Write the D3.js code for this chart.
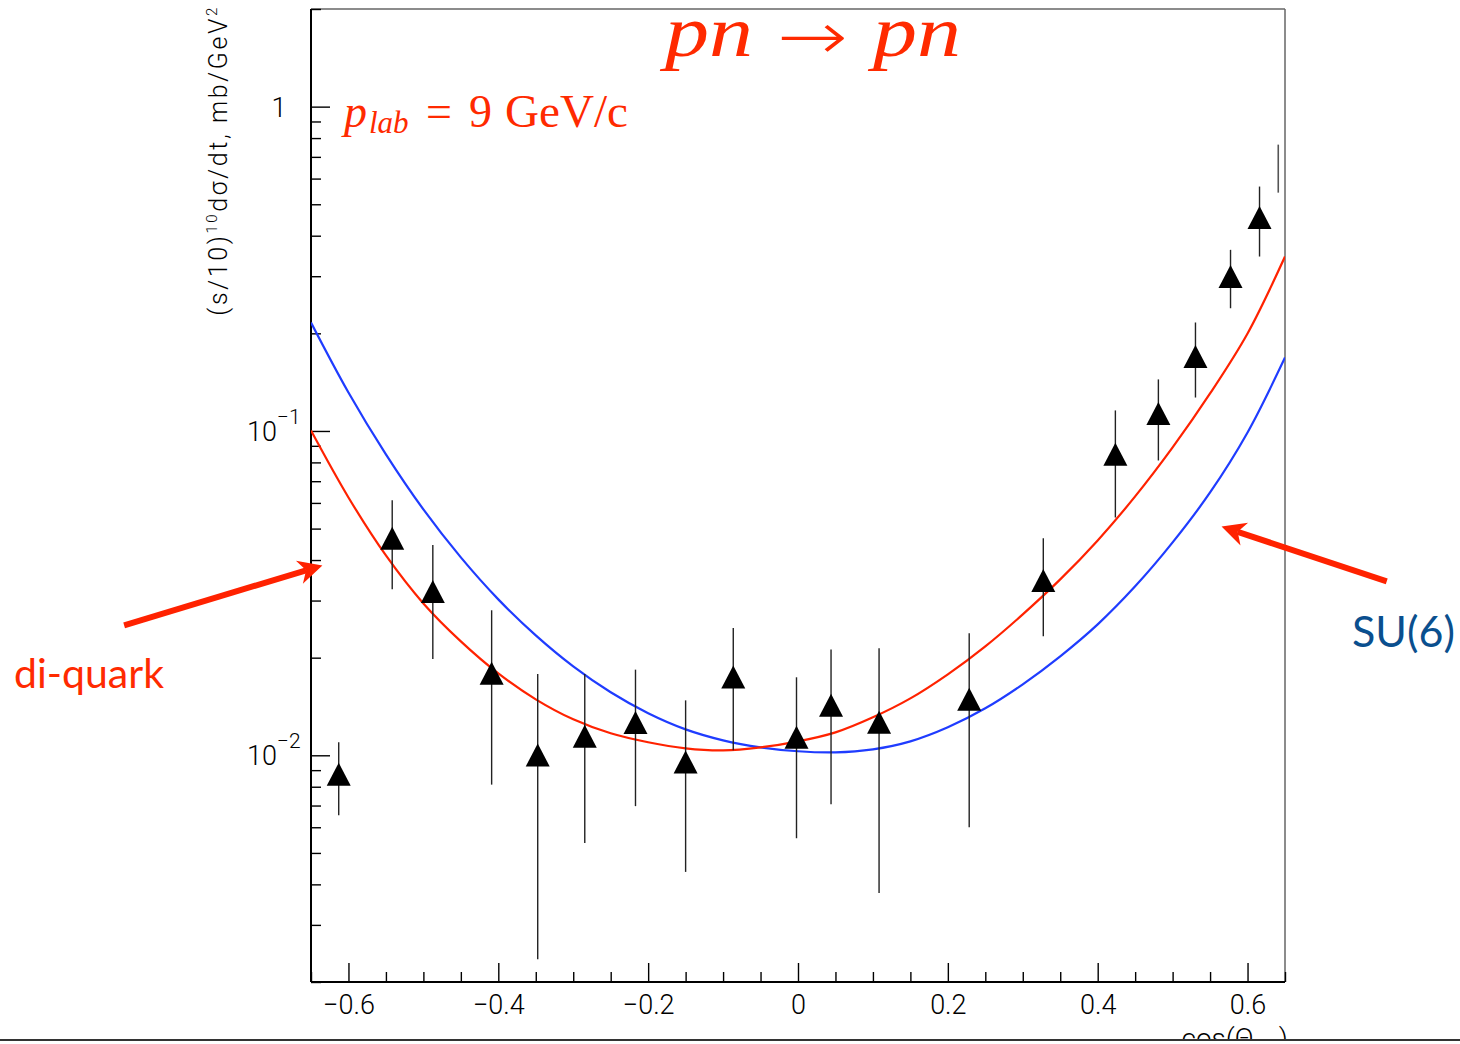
<!DOCTYPE html>
<html><head><meta charset="utf-8">
<script src="https://cdn.jsdelivr.net/npm/d3@7"></script>
<style>body{margin:0;background:#fff;overflow:hidden}</style>
</head><body>
<svg id="c" width="1460" height="1044"></svg>
<script>
// ---------- data ----------
const pointX   = [-0.613, -0.5416, -0.4874, -0.4089, -0.3474, -0.2846, -0.2169, -0.150, -0.0864, -0.002, 0.0441, 0.1082, 0.2285, 0.3274, 0.4236, 0.4810, 0.5305, 0.5773, 0.6160];
const pointY   = [0.00874, 0.0467, 0.0320, 0.0179, 0.01002, 0.01145, 0.01262, 0.00954, 0.01743, 0.01136, 0.01426, 0.01264, 0.01488, 0.0346, 0.0847, 0.1132, 0.1697, 0.2993, 0.455];
const pointHi  = [0.01097, 0.0611, 0.0445, 0.0280, 0.0178, 0.0178, 0.01837, 0.01477, 0.0247, 0.0174, 0.0212, 0.0214, 0.02377, 0.0467, 0.1157, 0.1442, 0.2160, 0.3618, 0.567];
const pointLo  = [0.00653, 0.0325, 0.0198, 0.00812, 0.00235, 0.00537, 0.00697, 0.00437, 0.01036, 0.00555, 0.00706, 0.00376, 0.0060, 0.0233, 0.0541, 0.0811, 0.1268, 0.239, 0.345];
// error bar drawn without marker (right edge)
const barOnlyX  = [0.641];
const barOnlyLo = [0.543];
const barOnlyHi = [0.7636];

const curveX = [-0.65,-0.60,-0.55,-0.50,-0.45,-0.40,-0.35,-0.30,-0.25,-0.20,-0.15,-0.10,-0.05,0.00,0.05,0.10,0.15,0.20,0.25,0.30,0.35,0.40,0.45,0.50,0.55,0.60,0.65];
const diquarkY = [0.1003,0.06237,0.04133,0.02940,0.02246,0.01789,0.01488,0.01291,0.01169,0.01097,0.01051,0.01036,0.01058,0.01104,0.01177,0.01310,0.01498,0.01777,0.02167,0.02720,0.03486,0.04598,0.06283,0.08897,0.1305,0.1998,0.3449];
const su6Y     = [0.2160,0.13145,0.08468,0.05729,0.04075,0.03025,0.02343,0.01880,0.01564,0.01348,0.01202,0.01112,0.01058,0.01029,0.01021,0.01043,0.01104,0.01220,0.01396,0.01655,0.02019,0.02533,0.03318,0.04533,0.06463,0.09894,0.16841];

const xMajor = [-0.6,-0.4,-0.2,0,0.2,0.4,0.6];
const xMinor = [-0.65,-0.55,-0.5,-0.45,-0.35,-0.3,-0.25,-0.15,-0.1,-0.05,0.05,0.1,0.15,0.25,0.3,0.35,0.45,0.5,0.55,0.65];
const yMajor = [0.01,0.1,1];
const yMinor = [0.002,0.003,0.004,0.005,0.006,0.007,0.008,0.009,0.02,0.03,0.04,0.05,0.06,0.07,0.08,0.09,0.2,0.3,0.4,0.5,0.6,0.7,0.8,0.9,2];
const yMajorLabels = [{base:"10",exp:"\u22122"},{base:"10",exp:"\u22121"},{base:"1",exp:""}];

// annotation arrows (data coords: tail -> tip)
const arrowDiquark = {x0:-0.8994, y0:0.02516, x1:-0.6348, y1:0.03850};
const arrowSU6     = {x0: 0.7858, y0:0.03437, x1: 0.5653, y1:0.05077};

// ---------- layout ----------
const svg = d3.select("#c");
const L=311, R=1285, T=9, B=982;
const x = d3.scaleLinear().domain([-0.65,0.65]).range([L,R]);
const y = d3.scaleLog().domain([0.002,2]).range([B,T]);
const RED="#ff2200", BLUE="#1f3cff", TXTRED="#ff2a00", SUBLUE="#0a4f8e";
const tickFont = "Roboto, 'Liberation Sans', sans-serif";

svg.append("defs").append("clipPath").attr("id","plot")
  .append("rect").attr("x",L).attr("y",T).attr("width",R-L).attr("height",B-T);
svg.select("defs").append("clipPath").attr("id","bottomclip")
  .append("rect").attr("x",0).attr("y",0).attr("width",1460).attr("height",1039);

// frame
svg.append("line").attr("x1",L).attr("x2",R).attr("y1",T).attr("y2",T).attr("stroke","#666").attr("stroke-width",1.5);
svg.append("line").attr("x1",R).attr("x2",R).attr("y1",T).attr("y2",B).attr("stroke","#666").attr("stroke-width",1.5);

// x axis
const fmtX = d => Math.abs(d) < 1e-9 ? "0" : d3.format(".1f")(d);
const gx = svg.append("g").attr("transform",`translate(0,${B})`)
  .call(d3.axisBottom(x).tickValues(xMajor).tickSize(-19).tickPadding(13).tickFormat(fmtX));
gx.select(".domain").remove();
gx.selectAll(".tick line").attr("stroke","#000").attr("stroke-width",1.4);
gx.selectAll(".tick text").attr("font-family",tickFont).attr("font-weight",300).attr("font-size",27).attr("fill","#000");
const gxm = svg.append("g").attr("transform",`translate(0,${B})`)
  .call(d3.axisBottom(x).tickValues(xMinor).tickSize(-10).tickFormat(""));
gxm.select(".domain").remove();
gxm.selectAll(".tick line").attr("stroke","#000").attr("stroke-width",1.4);

// y axis
const gy = svg.append("g").attr("transform",`translate(${L},0)`)
  .call(d3.axisLeft(y).tickValues(yMajor).tickSize(-19).tickFormat(""));
gy.select(".domain").remove();
gy.selectAll(".tick line").attr("stroke","#000").attr("stroke-width",1.4);
const gym = svg.append("g").attr("transform",`translate(${L},0)`)
  .call(d3.axisLeft(y).tickValues(yMinor).tickSize(-10).tickFormat(""));
gym.select(".domain").remove();
gym.selectAll(".tick line").attr("stroke","#000").attr("stroke-width",1.4);

// y tick labels
yMajor.forEach((v,i) => {
  const lab = yMajorLabels[i];
  const t = svg.append("text").attr("font-family",tickFont).attr("font-weight",300)
    .attr("font-size",27).attr("fill","#000").attr("y",y(v)+10);
  if (lab.exp === "") {
    t.attr("x",279).attr("text-anchor","middle").text(lab.base);
  } else {
    t.attr("x",247);
    t.append("tspan").text(lab.base);
    t.append("tspan").attr("dy",-17).attr("font-size",21).text(lab.exp);
  }
});

// axis lines
svg.append("line").attr("x1",L).attr("x2",L).attr("y1",T).attr("y2",B).attr("stroke","#000").attr("stroke-width",2);
svg.append("line").attr("x1",L).attr("x2",R).attr("y1",B).attr("y2",B).attr("stroke","#000").attr("stroke-width",2);

// y axis title
const yt = svg.append("text").attr("transform","translate(227,5) rotate(-90)")
  .attr("text-anchor","end").attr("font-family",tickFont).attr("font-weight",300)
  .attr("font-size",25).attr("fill","#000").attr("letter-spacing",2.6);
yt.append("tspan").text("(s/10)");
yt.append("tspan").attr("dy",-10).attr("font-size",15).text("10");
yt.append("tspan").attr("dy",10).text("d\u03c3/dt, mb/GeV");
yt.append("tspan").attr("dy",-10).attr("font-size",15).text("2");

// x axis title (partly hidden below the bottom rule, as in the original)
svg.append("text").attr("clip-path","url(#bottomclip)")
  .attr("x",1288).attr("y",1048).attr("text-anchor","end")
  .attr("font-family",tickFont).attr("font-weight",300).attr("font-size",28).attr("fill","#000")
  .html("cos(\u0398<tspan font-size='18' dy='6'>cm</tspan><tspan dy='-6'>)</tspan>");
svg.append("line").attr("x1",0).attr("x2",1460).attr("y1",1040).attr("y2",1040).attr("stroke","#333").attr("stroke-width",2);

// curves
const line = d3.line().x(d=>x(d[0])).y(d=>y(d[1])).curve(d3.curveCatmullRom.alpha(0.5));
const plot = svg.append("g").attr("clip-path","url(#plot)");
plot.append("path").datum(curveX.map((v,i)=>[v,su6Y[i]])).attr("d",line)
  .attr("fill","none").attr("stroke",BLUE).attr("stroke-width",2.2);
plot.append("path").datum(curveX.map((v,i)=>[v,diquarkY[i]])).attr("d",line)
  .attr("fill","none").attr("stroke",RED).attr("stroke-width",2.2);

// error bars
const pts = pointX.map((v,i)=>({x:v,y:pointY[i],hi:pointHi[i],lo:pointLo[i]}));
plot.selectAll("line.err").data(pts).join("line").attr("class","err")
  .attr("x1",d=>x(d.x)).attr("x2",d=>x(d.x)).attr("y1",d=>y(d.hi)).attr("y2",d=>y(d.lo))
  .attr("stroke","#222").attr("stroke-width",1.4);
plot.selectAll("line.err2").data(barOnlyX.map((v,i)=>({x:v,hi:barOnlyHi[i],lo:barOnlyLo[i]}))).join("line").attr("class","err2")
  .attr("x1",d=>x(d.x)).attr("x2",d=>x(d.x)).attr("y1",d=>y(d.hi)).attr("y2",d=>y(d.lo))
  .attr("stroke","#555").attr("stroke-width",1.6);
// triangle markers
plot.selectAll("path.mk").data(pts).join("path").attr("class","mk")
  .attr("transform",d=>`translate(${x(d.x)},${y(d.y)})`)
  .attr("d","M0,-11.5L12,11.5L-12,11.5Z").attr("fill","#000");

// title
const title = svg.append("g").attr("fill",TXTRED).attr("font-family","'Liberation Serif', 'DejaVu Serif', serif");
title.append("text").attr("x",665).attr("y",56).attr("font-size",72).attr("font-style","italic")
  .attr("textLength",88).attr("lengthAdjust","spacingAndGlyphs").text("pn");
title.append("text").attr("x",777).attr("y",59).attr("font-size",66)
  .attr("font-family","'DejaVu Sans', sans-serif").attr("font-weight",200)
  .attr("textLength",71).attr("lengthAdjust","spacingAndGlyphs").text("\u2192");
title.append("text").attr("x",873).attr("y",56).attr("font-size",72).attr("font-style","italic")
  .attr("textLength",88).attr("lengthAdjust","spacingAndGlyphs").text("pn");

// p_lab label
const pl = svg.append("text").attr("x",344).attr("y",127).attr("fill",TXTRED)
  .attr("font-family","'Liberation Serif', 'DejaVu Serif', serif").attr("font-size",46);
pl.append("tspan").attr("font-style","italic").text("p");
pl.append("tspan").attr("font-style","italic").attr("font-size",31).attr("dy",6).attr("x",369).text("lab");
pl.append("tspan").attr("dy",-6).attr("x",426).text("=");
pl.append("tspan").attr("x",469).text("9");
pl.append("tspan").attr("x",505).attr("textLength",123).attr("lengthAdjust","spacingAndGlyphs").text("GeV/c");

// annotation labels
svg.append("text").attr("x",14).attr("y",688).attr("fill",TXTRED)
  .attr("font-family","Lato, 'Open Sans', sans-serif").attr("font-size",41).text("di-quark");
svg.append("text").attr("x",1352).attr("y",647).attr("fill",SUBLUE)
  .attr("font-family","Lato, 'Open Sans', sans-serif").attr("font-size",43).text("SU(6)");

// arrows
function arrow(a){
  const x0=x(a.x0), y0=y(a.y0), x1=x(a.x1), y1=y(a.y1);
  const ang = Math.atan2(y1-y0, x1-x0);
  const len=24, hw=12, notch=17;
  const ux=Math.cos(ang), uy=Math.sin(ang), px=-uy, py=ux;
  const bx=x1-ux*len, by=y1-uy*len;
  const nx=x1-ux*notch, ny=y1-uy*notch;
  svg.append("line").attr("x1",x0).attr("y1",y0).attr("x2",nx).attr("y2",ny)
    .attr("stroke",RED).attr("stroke-width",6);
  svg.append("path").attr("d",`M${x1},${y1}L${bx+px*hw},${by+py*hw}L${nx},${ny}L${bx-px*hw},${by-py*hw}Z`)
    .attr("fill",RED);
}
arrow(arrowDiquark);
arrow(arrowSU6);
</script>
</body></html>
